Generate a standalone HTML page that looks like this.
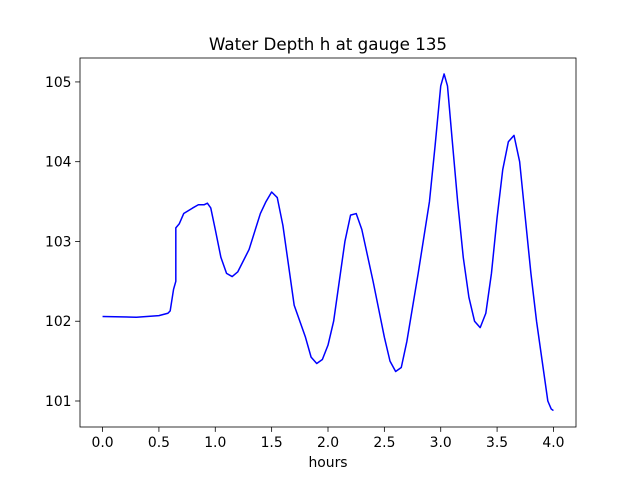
<!DOCTYPE html>
<html><head><meta charset="utf-8"><style>
body{margin:0;background:#fff;}
svg{display:block;font-family:"DejaVu Sans","Liberation Sans",sans-serif;}
</style></head><body>
<svg id="chart" width="640" height="480" viewBox="0 0 640 480"></svg>
<script>
const times=[0,0.3,0.5,0.58,0.6,0.63,0.65,0.65,0.68,0.72,0.8,0.85,0.9,0.93,0.96,1.0,1.05,1.1,1.15,1.2,1.3,1.4,1.45,1.5,1.55,1.6,1.65,1.7,1.8,1.85,1.9,1.95,2.0,2.05,2.1,2.15,2.2,2.25,2.3,2.4,2.5,2.55,2.6,2.65,2.7,2.8,2.9,2.95,3.0,3.03,3.06,3.1,3.15,3.2,3.25,3.3,3.35,3.4,3.45,3.5,3.55,3.6,3.65,3.7,3.75,3.8,3.85,3.9,3.95,3.98,4.0];
const depth=[102.06,102.05,102.07,102.1,102.13,102.4,102.5,103.17,103.22,103.35,103.42,103.46,103.46,103.48,103.42,103.15,102.8,102.6,102.56,102.62,102.9,103.35,103.5,103.62,103.55,103.2,102.7,102.2,101.8,101.55,101.47,101.52,101.7,102.0,102.5,103.0,103.33,103.35,103.15,102.5,101.8,101.5,101.37,101.42,101.75,102.6,103.5,104.2,104.95,105.1,104.95,104.3,103.5,102.8,102.3,102.0,101.92,102.1,102.6,103.3,103.9,104.25,104.33,104.0,103.3,102.6,102.0,101.5,101.0,100.9,100.88];
const xTicks=[0,0.5,1,1.5,2,2.5,3,3.5,4];
const yTicks=[101,102,103,104,105];
const L=80,R=576,T=58,B=427,x0=-0.2,x1=4.2,y0=100.674,y1=105.30;
const sx=v=>L+(v-x0)/(x1-x0)*(R-L);
const sy=v=>B-(v-y0)/(y1-y0)*(B-T);
const svg=document.getElementById('chart');
const NS='http://www.w3.org/2000/svg';
function mk(t,a,p){const e=document.createElementNS(NS,t);for(const k in a)e.setAttribute(k,a[k]);(p||svg).appendChild(e);return e;}
let d=times.map((t,i)=>(i?'L':'M')+sx(t).toFixed(2)+','+sy(depth[i]).toFixed(2)).join('');
const line=mk('path',{d:d,fill:'none',stroke:'#0000ff','stroke-width':1.5,'stroke-linejoin':'round'});


const frame=mk('rect',{x:L,y:T,width:R-L,height:B-T,fill:'none',stroke:'#000','stroke-width':0.8});


xTicks.forEach(v=>{const x=sx(v);mk('line',{x1:x,x2:x,y1:B,y2:B+4.9,stroke:'#000','stroke-width':0.8});
const t=mk('text',{x:x,y:B+20,'text-anchor':'middle','font-size':13.9});t.textContent=v.toFixed(1);

});
yTicks.forEach(v=>{const y=sy(v);mk('line',{x1:L-4.9,x2:L,y1:y,y2:y,stroke:'#000','stroke-width':0.8});
const t=mk('text',{x:L-8.5,y:y+5,'text-anchor':'end','font-size':13.9});t.textContent=v;

});
const xt=mk('text',{x:(L+R)/2,y:467,'text-anchor':'middle','font-size':13.9});xt.textContent='hours';


const tt=mk('text',{x:(L+R)/2,y:50,'text-anchor':'middle','font-size':16.7});tt.textContent='Water Depth h at gauge 135';


</script>
</body></html>
